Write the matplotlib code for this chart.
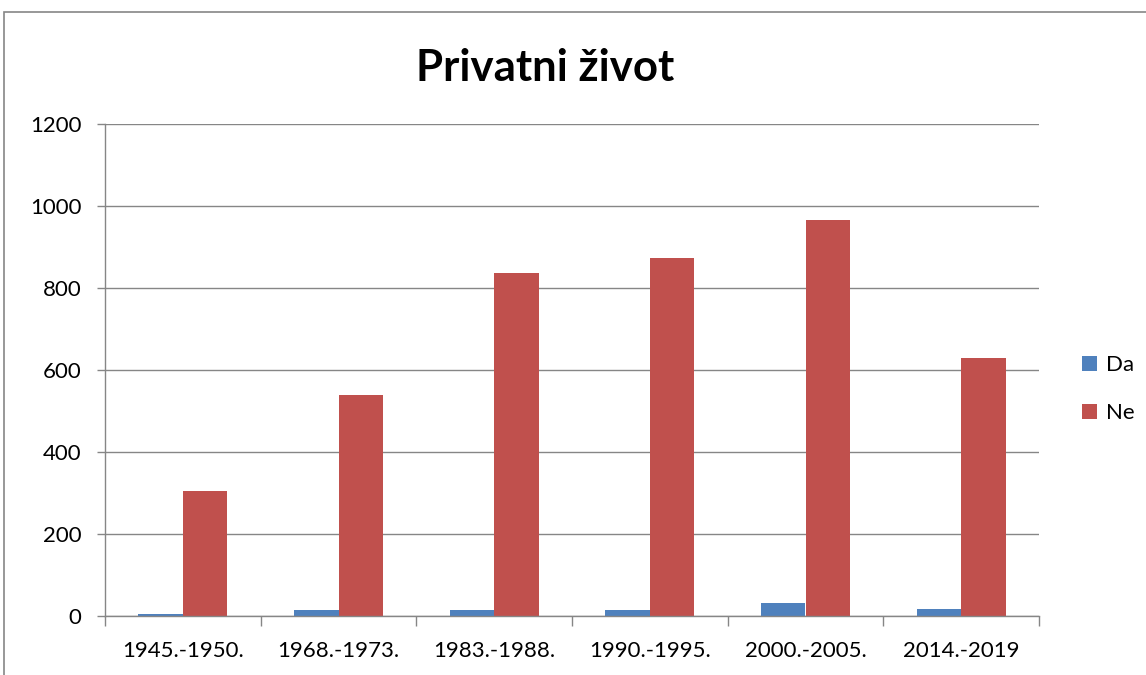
import matplotlib
matplotlib.use("Agg")
import matplotlib.pyplot as plt
import numpy as np
from matplotlib.patches import Rectangle

categories = ["1945.-1950.", "1968.-1973.", "1983.-1988.", "1990.-1995.", "2000.-2005.", "2014.-2019"]
da = [5, 15, 15, 14, 32, 18]
ne = [306, 538, 837, 873, 966, 630]
series_names = ["Da", "Ne"]
colors = ["#4F81BD", "#C0504D"]
yticks = [0, 200, 400, 600, 800, 1000, 1200]

plt.rcParams['font.family'] = ['Lato', 'DejaVu Sans']

W, H = 1146, 675
fig = plt.figure(figsize=(W / 100, H / 100), dpi=100)
ax = fig.add_axes([105 / W, 1 - 616 / H, (1039 - 105) / W, (616 - 124) / H])

x = np.arange(len(categories))
bw = 1 / 3.5
ax.bar(x - bw / 2, da, width=bw, color=colors[0], label=series_names[0], zorder=3)
ax.bar(x + bw / 2, ne, width=bw, color=colors[1], label=series_names[1], zorder=3)

ax.set_xlim(-0.5, len(categories) - 0.5)
ax.set_ylim(0, 1200)
ax.set_yticks(yticks)
ax.set_yticklabels([str(v) for v in yticks], fontsize=16)
ax.set_xticks(x)
ax.set_xticklabels(categories, fontsize=16)
ax.tick_params(axis='x', length=0, pad=18)
ax.set_xticks(np.arange(-0.5, len(categories)), minor=True)
ax.tick_params(axis='x', which='minor', length=7, color='#868686', width=1)
ax.tick_params(axis='y', length=6, color='#868686', width=1, pad=11)

ax.grid(axis='y', color='#868686', linewidth=1, zorder=0)
for s in ['top', 'right']:
    ax.spines[s].set_visible(False)
for s in ['left', 'bottom']:
    ax.spines[s].set_color('#868686')
    ax.spines[s].set_linewidth(1)
ax.spines['bottom'].set_zorder(4)

fig.text(545 / W, 1 - 68 / H, "Privatni život", fontsize=31.5, fontweight='bold',
         ha='center', va='center')

leg = ax.legend(loc='center left', bbox_to_anchor=(1082 / W, 1 - 389 / H),
                bbox_transform=fig.transFigure, frameon=False, fontsize=16,
                handlelength=0.675, handleheight=0.675, handletextpad=0.4,
                labelspacing=1.27, borderpad=0, borderaxespad=0)

fig.patches.append(Rectangle((4 / W, -0.1), 1.2, 1 - 12 / H + 0.1, transform=fig.transFigure,
                             fill=False, edgecolor='#868686', linewidth=1.2))

fig.savefig("out.png", dpi=100)
